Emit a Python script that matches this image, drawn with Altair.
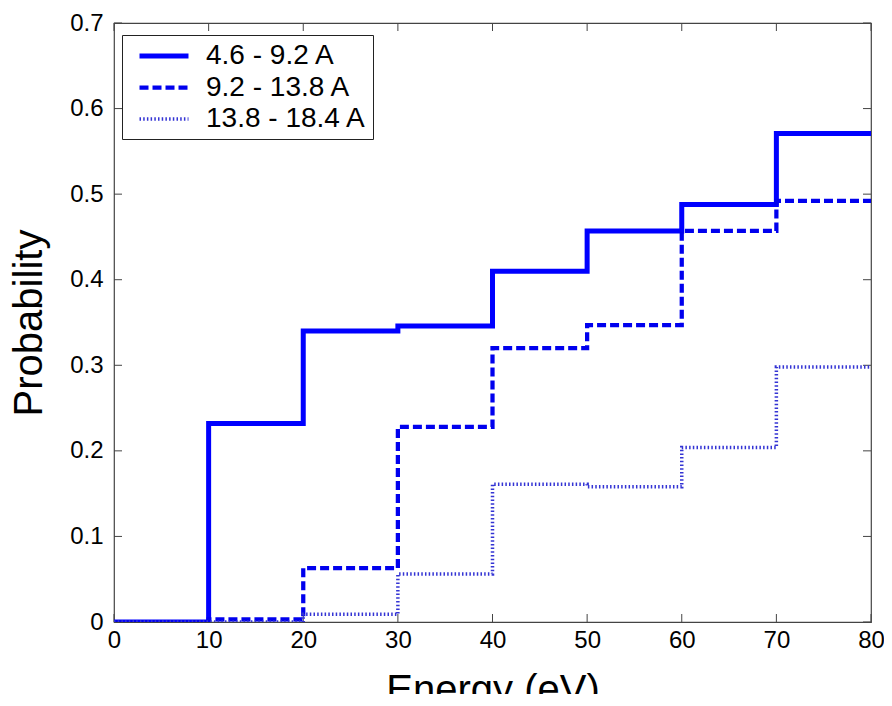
import altair as alt
import pandas as pd

# Data (step plot, value holds from each x to the next)
energy = [0, 10, 20, 30, 40, 50, 60, 70, 80]
series_names = ["4.6 - 9.2 A", "9.2 - 13.8 A", "13.8 - 18.4 A"]
prob_a = [0.0, 0.232, 0.340, 0.346, 0.410, 0.457, 0.488, 0.571, 0.571]
prob_b = [0.0, 0.003, 0.063, 0.228, 0.320, 0.347, 0.457, 0.492, 0.492]
prob_c = [0.0, 0.0, 0.009, 0.056, 0.161, 0.158, 0.204, 0.298, 0.298]
x_ticks = [0, 10, 20, 30, 40, 50, 60, 70, 80]
y_ticks = [0, 0.1, 0.2, 0.3, 0.4, 0.5, 0.6, 0.7]

rows = []
for name, vals in zip(series_names, [prob_a, prob_b, prob_c]):
    for e, p in zip(energy, vals):
        rows.append({"Energy": e, "Probability": p, "series": name})
df = pd.DataFrame(rows)
xt = pd.DataFrame({"x": x_ticks})
yt = pd.DataFrame({"y": y_ticks})

W, H = 757, 599
FONT = "Liberation Sans"
xscale = alt.Scale(domain=[0, 80], nice=False, zero=False)
yscale = alt.Scale(domain=[0, 0.7], nice=False)

lines = alt.Chart(df).mark_line(interpolate="step-after", clip=True).encode(
    x=alt.X("Energy:Q", scale=xscale,
            axis=alt.Axis(values=x_ticks, title="Energy (eV)", tickSize=0,
                          labelPadding=6, titlePadding=18, domain=False,
                          labelFlush=False)),
    y=alt.Y("Probability:Q", scale=yscale,
            axis=alt.Axis(values=y_ticks, title="Probability", tickSize=0,
                          format=".1~f",
                          labelPadding=11, titlePadding=20, domain=False,
                          labelFlush=False)),
    color=alt.Color("series:N", sort=series_names,
                    scale=alt.Scale(domain=series_names,
                                    range=["#0000ff", "#0000ee", "#3434d4"]),
                    title=None,
                    legend=alt.Legend(orient="none", legendX=8, legendY=12)),
    strokeDash=alt.StrokeDash("series:N", sort=series_names,
                              scale=alt.Scale(domain=series_names,
                                              range=[[1, 0], [9, 4], [1.5, 2.2]]),
                              title=None),
    strokeWidth=alt.StrokeWidth("series:N", sort=series_names,
                                scale=alt.Scale(domain=series_names,
                                                range=[5, 3.5, 1.6]),
                                title=None),
    order=alt.Order("series:N"),
)

tick_col = "#444444"
bottom_ticks = alt.Chart(xt).mark_rule(color=tick_col, strokeWidth=1).encode(
    x=alt.X("x:Q", scale=xscale), y=alt.value(H), y2=alt.value(H - 8))
top_ticks = alt.Chart(xt).mark_rule(color=tick_col, strokeWidth=1).encode(
    x=alt.X("x:Q", scale=xscale), y=alt.value(0), y2=alt.value(8))
left_ticks = alt.Chart(yt).mark_rule(color=tick_col, strokeWidth=1).encode(
    y=alt.Y("y:Q", scale=yscale), x=alt.value(0), x2=alt.value(8))
right_ticks = alt.Chart(yt).mark_rule(color=tick_col, strokeWidth=1).encode(
    y=alt.Y("y:Q", scale=yscale), x=alt.value(W - 8), x2=alt.value(W))

chart = alt.layer(bottom_ticks, top_ticks, left_ticks, right_ticks, lines).properties(
    width=W, height=H,
    autosize=alt.AutoSizeParams(type="none"),
    padding={"left": 106, "top": 15, "right": 13, "bottom": 72},
).configure_view(
    stroke=tick_col, strokeWidth=1.2
).configure_axis(
    labelFont=FONT, titleFont=FONT, labelFontSize=24, titleFontSize=40,
    labelColor="black", titleColor="black", titleFontWeight="normal",
    grid=False,
).configure_legend(
    labelFont=FONT, labelFontSize=28, labelColor="black",
    fillColor="white", strokeColor="#222222", padding=6,
    symbolType="M-2,0H2", symbolSize=600, symbolOffset=21,
    labelOffset=27, rowPadding=3,
    symbolStrokeColor="#0000ff", labelLimit=400,
)

chart.save("out.html", embed_options={"renderer": "svg", "actions": False})
